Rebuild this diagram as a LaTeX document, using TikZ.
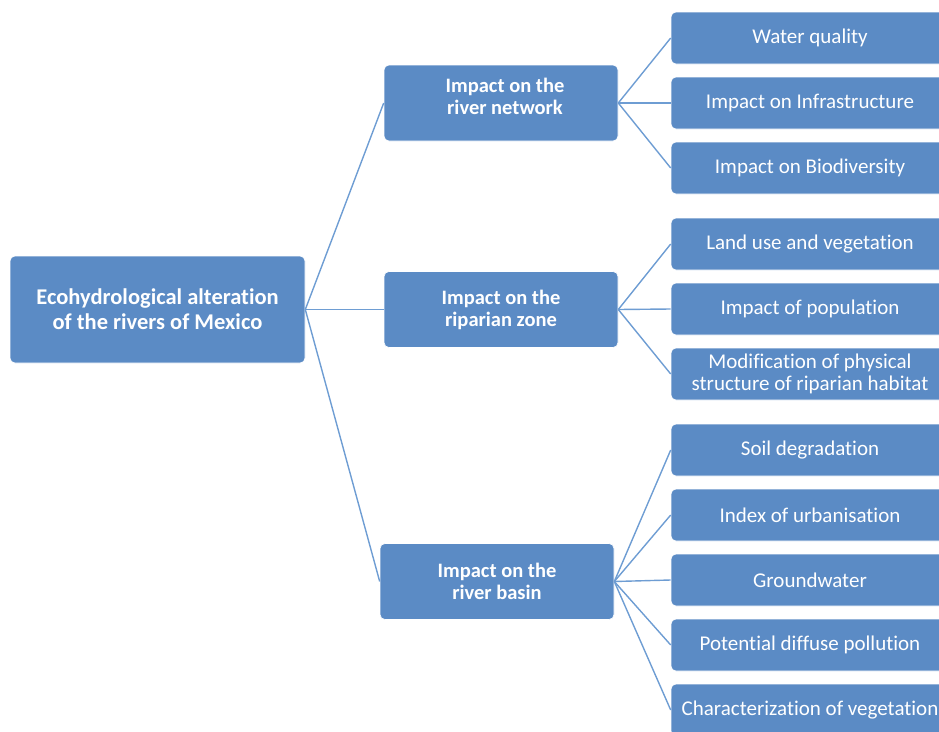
\documentclass[tikz,border=0pt]{standalone}
\usepackage{fontspec}
\setmainfont[Ligatures=NoCommon]{Carlito}
\begin{document}
\begin{tikzpicture}[x=1pt,y=-1pt,
  box/.style={draw=white,line width=0.6pt,fill=boxblue,rounded corners=5pt,text=white,align=center,inner sep=0pt},
  rootbox/.style={box,minimum width=295pt,minimum height=107pt,font=\fontsize{22.5}{25}\selectfont\bfseries},
  midfont/.style={font=\fontsize{20.5}{22}\selectfont\bfseries},
  midbox/.style={box,minimum width=234pt,minimum height=76pt,midfont},
  leafbox/.style={box,minimum width=278pt,minimum height=52pt,font=\fontsize{21}{22}\selectfont},
  link/.style={draw=linkblue,line width=1.4pt}]
\definecolor{boxblue}{HTML}{5B8BC5}
\definecolor{linkblue}{HTML}{6E9DD3}
\useasboundingbox (0,0) rectangle (939,731);
\clip (0,0) rectangle (939,731);

% root
\node[rootbox] (root) at (157.5,309.5) {Ecohydrological alteration\\of the rivers of Mexico};

% second level
\node[midbox] (net) at (501,103) {};
\node[midfont,text=white,align=center] at (505,96) {Impact on the\\river network};
\node[midbox] (rip) at (501,309.5) {Impact on the\\riparian zone};
\node[midbox] (bas) at (497,581.5) {Impact on the\\river basin};

% leaves
\node[leafbox] (w)  at (810,38)  {Water quality};
\node[leafbox] (inf) at (810,103) {Impact on Infrastructure};
\node[leafbox] (bio) at (810,168) {Impact on Biodiversity};
\node[leafbox] (lu) at (810,244) {Land use and vegetation};
\node[leafbox] (pop) at (810,309) {Impact of population};
\node[leafbox] (mod) at (810,374) {Modification of physical\\structure of riparian habitat};
\node[leafbox] (soil) at (810,450) {Soil degradation};
\node[leafbox] (urb) at (810,515) {Index of urbanisation};
\node[leafbox] (gw) at (810,580) {Groundwater};
\node[leafbox] (pdp) at (810,645) {Potential diffuse pollution};
\node[leafbox] (veg) at (810,710) {Characterization of vegetation};

% connectors
\foreach \m in {net,rip,bas} \draw[link] (root.east) -- (\m.west);
\foreach \l in {w,inf,bio} \draw[link] (net.east) -- (\l.west);
\foreach \l in {lu,pop,mod} \draw[link] (rip.east) -- (\l.west);
\foreach \l in {soil,urb,gw,pdp,veg} \draw[link] (bas.east) -- (\l.west);
\end{tikzpicture}
\end{document}
